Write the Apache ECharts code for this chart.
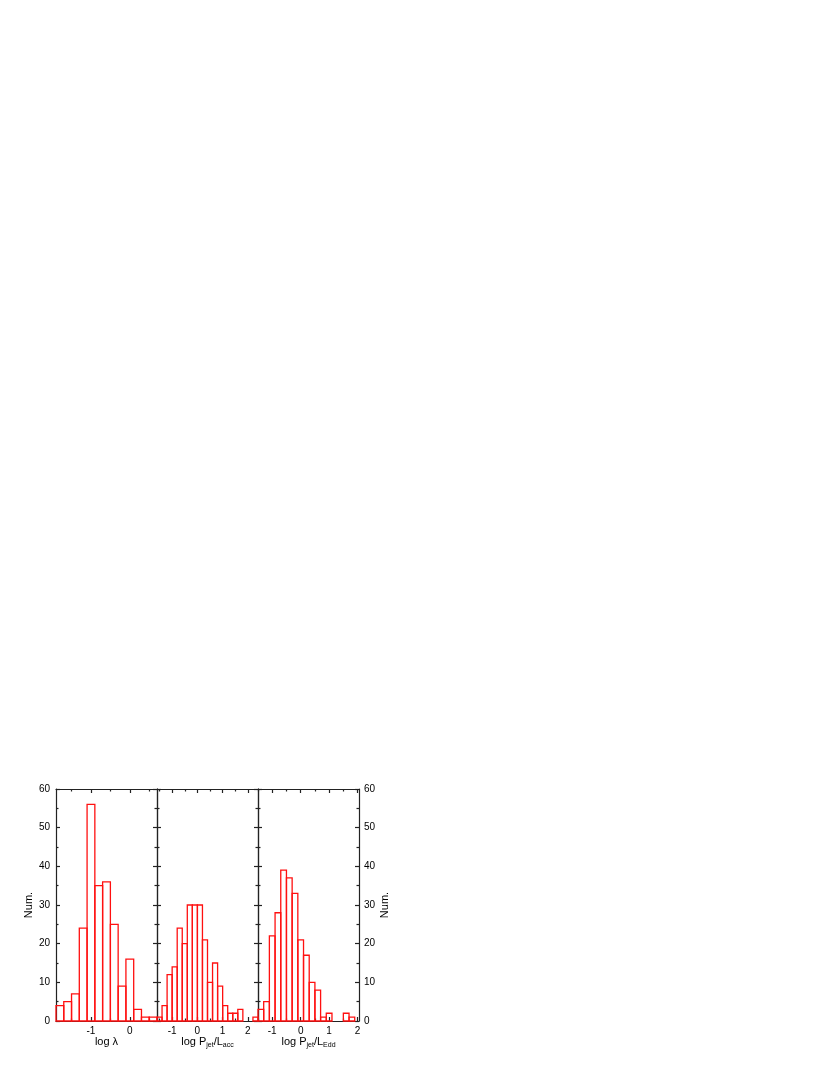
<!DOCTYPE html>
<html><head><meta charset="utf-8">
<script src="https://cdn.jsdelivr.net/npm/echarts@6/dist/echarts.min.js"></script>
<style>html,body{margin:0;padding:0;background:#fff}#c{width:830px;height:1075px}</style>
</head><body><div id="c"></div>
<script>
// ---- data ----
const binWidth = 0.2;
const lambdaBinStart = [-1.9,-1.7,-1.5,-1.3,-1.1,-0.9,-0.7,-0.5,-0.3,-0.1,0.1,0.3,0.5];
const lambdaCounts   = [4,5,7,24,56,35,36,25,9,16,3,1,1];
const accBinStart = [-1.6,-1.4,-1.2,-1.0,-0.8,-0.6,-0.4,-0.2,0.0,0.2,0.4,0.6,0.8,1.0,1.2,1.4,1.6,1.8,2.0,2.2];
const accCounts   = [1,4,12,14,24,20,30,30,30,21,10,15,9,4,2,2,3,0,0,1];
const eddBinStart = [-1.5,-1.3,-1.1,-0.9,-0.7,-0.5,-0.3,-0.1,0.1,0.3,0.5,0.7,0.9,1.1,1.3,1.5,1.7];
const eddCounts   = [3,5,22,28,39,37,33,21,17,10,8,1,2,0,0,2,1];
const xMajor = [[-1,0],[-1,0,1,2],[-1,0,1,2]];
const xMinor = [[-1.5,-0.5,0.5],[-1.5,-0.5,0.5,1.5],[-1.5,-0.5,0.5,1.5]];
const xRange = [[-1.9,0.7],[-1.6,2.4],[-1.5,2.05]];
const xNames = ['log λ','log P{s|jet}/L{s|acc}','log P{s|jet}/L{s|Edd}'];

const FONT = 'Liberation Sans, Arial, sans-serif';
const grids = [
  {left:56, top:789, width:101, height:232},
  {left:157, top:789, width:101, height:232},
  {left:258, top:789, width:101, height:232}
];
const xAxes = [], yAxes = [], series = [];
const lineStyle = {color:'#222', width:1.2};
const sets = [[lambdaBinStart,lambdaCounts],[accBinStart,accCounts],[eddBinStart,eddCounts]];
function renderBin(params, api){
  const x0 = api.value(0), v = api.value(1);
  if (!(v > 0)) return null;
  const p0 = api.coord([x0, 0]);
  const p1 = api.coord([x0 + binWidth, v]);
  return {type:'rect',
    shape:{x:p0[0], y:p1[1], width:p1[0]-p0[0], height:p0[1]-p1[1]},
    style:{fill:'none', stroke:'#ff1010', lineWidth:1.3}};
}
for (let g=0; g<3; g++) {
  const [mn,mx] = xRange[g];
  const mainIdx = xAxes.length;
  xAxes.push({gridIndex:g, type:'value', min:mn, max:mx, position:'bottom',
    axisLine:{show:true, onZero:false, lineStyle},
    axisTick:{show:true, inside:true, length:4, customValues:xMajor[g], lineStyle},
    axisLabel:{show:true, customValues:xMajor[g], margin:5, fontSize:10, color:'#000', fontFamily:FONT},
    splitLine:{show:false},
    name:xNames[g], nameLocation:'middle', nameGap:14,
    nameTextStyle:{fontSize:11, color:'#000', fontFamily:FONT,
      rich:{s:{fontSize:7, color:'#000', fontFamily:FONT, padding:[6,0,0,0]}}}
  });
  xAxes.push({gridIndex:g, type:'value', min:mn, max:mx, position:'bottom',
    axisLine:{show:false, onZero:false}, axisTick:{show:true, inside:true, length:2.5, customValues:xMinor[g], lineStyle},
    axisLabel:{show:false}, splitLine:{show:false}});
  xAxes.push({gridIndex:g, type:'value', min:mn, max:mx, position:'top',
    axisLine:{show:true, onZero:false, lineStyle}, axisTick:{show:true, inside:true, length:4, customValues:xMajor[g], lineStyle},
    axisLabel:{show:false}, splitLine:{show:false}});
  xAxes.push({gridIndex:g, type:'value', min:mn, max:mx, position:'top',
    axisLine:{show:false, onZero:false}, axisTick:{show:true, inside:true, length:2.5, customValues:xMinor[g], lineStyle},
    axisLabel:{show:false}, splitLine:{show:false}});
  const yMain = yAxes.length;
  for (const pos of ['left','right']) {
    const showLab = (g===0 && pos==='left') || (g===2 && pos==='right');
    yAxes.push({gridIndex:g, type:'value', min:0, max:60, interval:10, position:pos,
      axisLine:{show:true, onZero:false, lineStyle},
      axisTick:{show:true, inside:true, length:4, lineStyle},
      minorTick:{show:true, splitNumber:2, length:2.5, lineStyle},
      axisLabel:{show:showLab, margin:pos==='left'?6:5, fontSize:10, color:'#000', fontFamily:FONT},
      splitLine:{show:false}, minorSplitLine:{show:false},
      name: showLab ? 'Num.' : '', nameLocation:'middle', nameRotate:90, nameGap: pos==='left'?22:17,
      nameTextStyle:{fontSize:11, color:'#000', fontFamily:FONT}
    });
  }
  const [starts, counts] = sets[g];
  series.push({
    type:'custom', xAxisIndex:mainIdx, yAxisIndex:yMain, silent:true,
    encode:{x:0, y:1},
    data: starts.map((s,i)=>[s, counts[i]]),
    renderItem: renderBin
  });
}
const chart = echarts.init(document.getElementById('c'), null, {renderer:'canvas'});
chart.setOption({
  backgroundColor:'#fff', animation:false, color:['#ff0000'],
  grid:grids, xAxis:xAxes, yAxis:yAxes, series:series
});
</script>
</body></html>
